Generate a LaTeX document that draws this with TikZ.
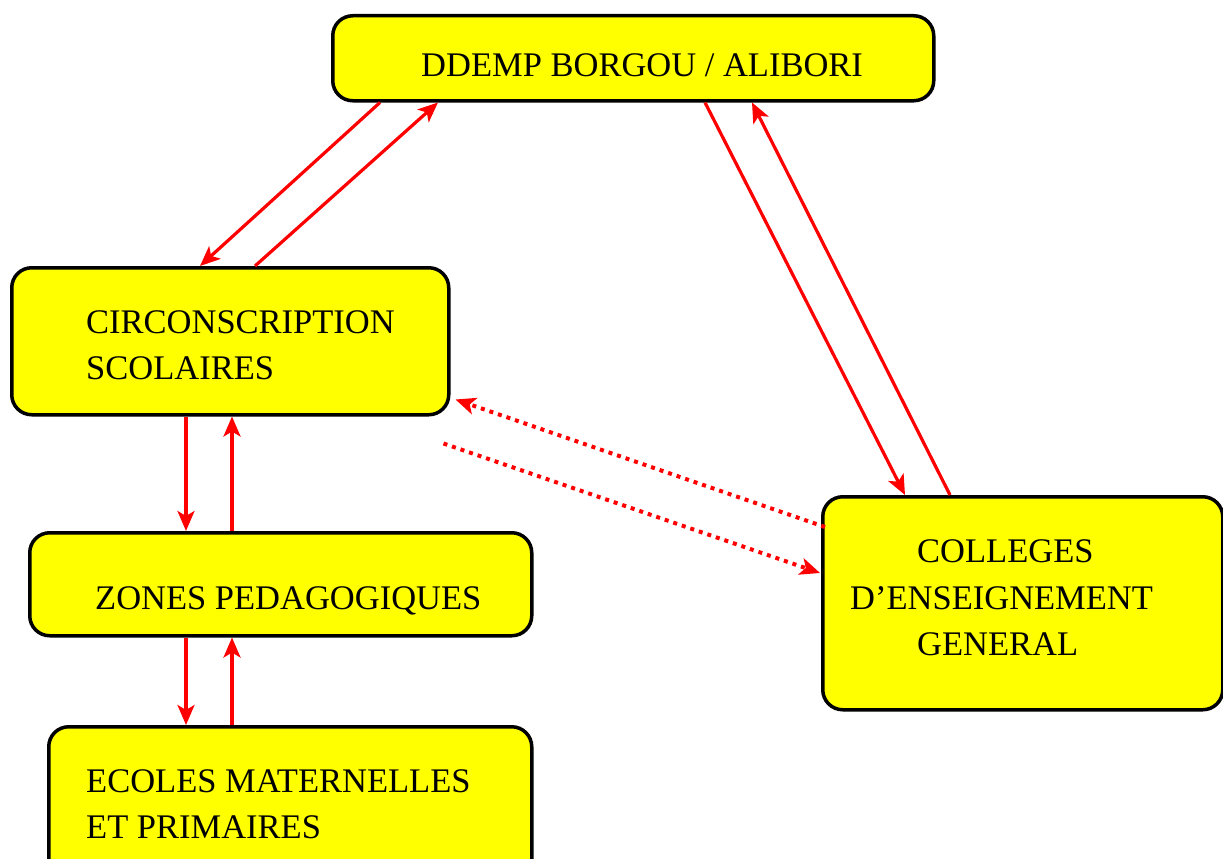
\documentclass[tikz,border=0pt]{standalone}
\usepackage{fontspec}
\setmainfont{Liberation Serif}
\usetikzlibrary{arrows.meta,calc}
\definecolor{boxyellow}{RGB}{255,255,0}
\definecolor{linered}{RGB}{255,0,0}
\begin{document}
\begin{tikzpicture}[x=1pt,y=-1pt,
  box/.style={draw=black,line width=3.5pt,fill=boxyellow,rounded corners=20pt,inner sep=0pt,anchor=north west},
  txt/.style={anchor=base west,inner sep=0pt,font=\fontsize{34.5}{41}\selectfont},
  arr/.style={draw=linered,line width=3.2pt,-{Stealth[length=20pt,width=17pt,inset=5pt]}},
  dotarr/.style={draw=linered,line width=4pt,dash pattern=on 4pt off 5pt,-{Stealth[length=20pt,width=17pt,inset=5pt]}}]
\useasboundingbox (0,0) rectangle (1223,859);
% boxes
\node[box,minimum width=601pt,minimum height=85pt] (ddemp) at (331,14) {};
\node[box,minimum width=437pt,minimum height=147pt] (circ) at (10,266) {};
\node[box,minimum width=502pt,minimum height=103pt] (zones) at (28,531) {};
\node[box,minimum width=483pt,minimum height=200pt] (ecoles) at (47,725) {};
\node[box,minimum width=400pt,minimum height=213pt] (col) at (821,495) {};
% texts
\node[txt] (tddemp) at (421,77) {DDEMP BORGOU / ALIBORI};
\node[txt] (tcirc1) at (86,333) {CIRCONSCRIPTION};
\node[txt] (tcirc2) at (86,379) {SCOLAIRES};
\node[txt] (tzones) at (95,609) {ZONES PEDAGOGIQUES};
\node[txt] (tcol1) at (917,562) {COLLEGES};
\node[txt] (tcol2) at (850,609) {D’ENSEIGNEMENT};
\node[txt] (tcol3) at (917,655) {GENERAL};
\node[txt] (tec1) at (86,792) {ECOLES MATERNELLES};
\node[txt] (tec2) at (86,838) {ET PRIMAIRES};
% connectors
\draw[arr] ($(ddemp.south west)+(49,0)$) -- ($(circ.north west)+(190,0)$);
\draw[arr] ($(circ.north west)+(245,0)$) -- ($(ddemp.south west)+(107,0)$);
\draw[arr] ($(ddemp.south west)+(374,0)$) -- ($(col.north west)+(84,0)$);
\draw[arr] ($(col.north west)+(129,0)$) -- ($(ddemp.south west)+(421,0)$);
\draw[dotarr] ($(col.north west)+(4,32)$) -- ($(circ.south east)+(5,-17)$);
\coordinate (d6) at ($(circ.south east)+(-7,27)$);
\draw[dotarr] (d6) -- ($(col.north west)+(-1,78)$);
\draw[arr] ($(circ.south west)+(176,0)$) -- ($(zones.north west)+(158,0)$);
\draw[arr] ($(zones.north west)+(204,0)$) -- ($(circ.south west)+(222,0)$);
\draw[arr] ($(zones.south west)+(158,0)$) -- ($(ecoles.north west)+(139,0)$);
\draw[arr] ($(ecoles.north west)+(185,0)$) -- ($(zones.south west)+(204,0)$);
\end{tikzpicture}
\end{document}
